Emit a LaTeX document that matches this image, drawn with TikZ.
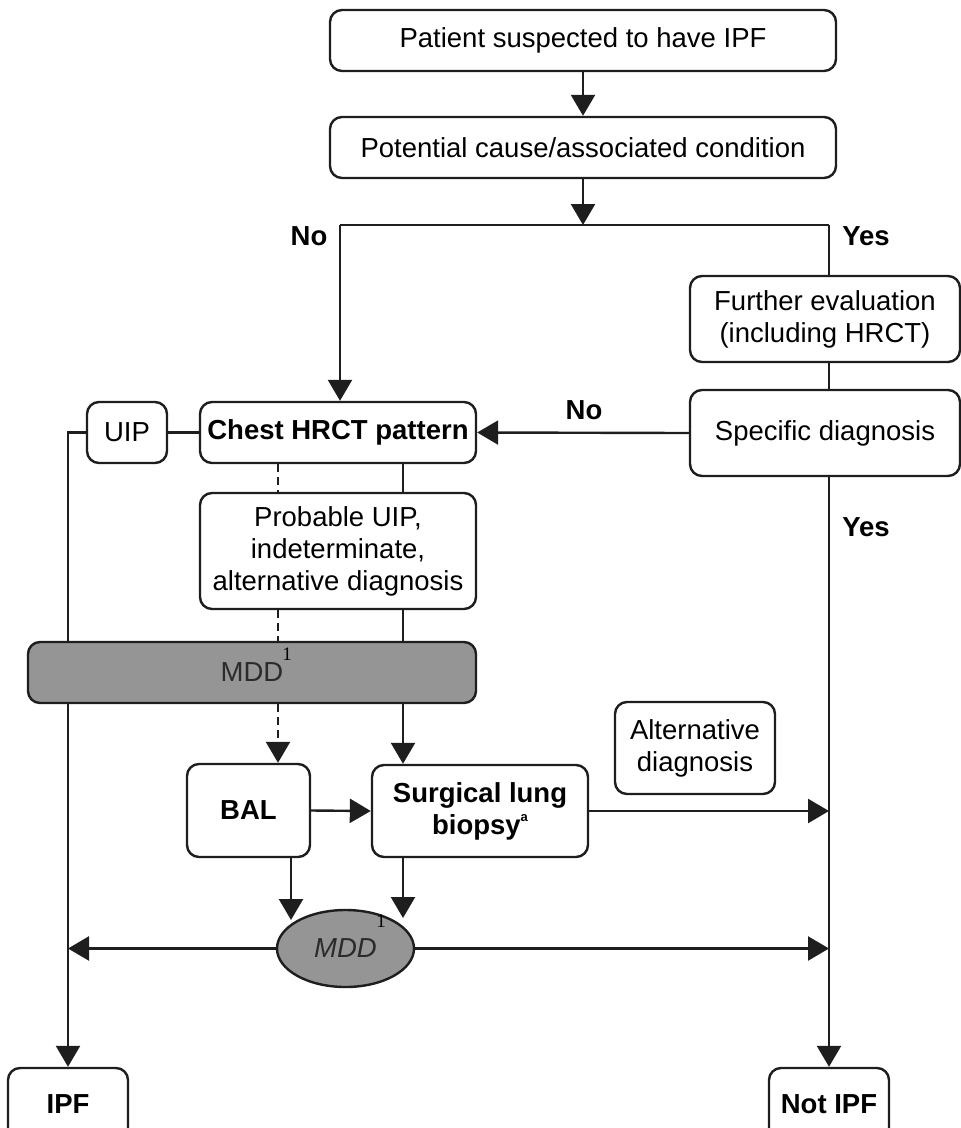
\documentclass[tikz,border=0pt]{standalone}
\usepackage{fontspec}
\setmainfont{Liberation Sans}
\newfontfamily\supfont{Liberation Serif}
\usetikzlibrary{arrows.meta,shapes.geometric}
\definecolor{mddgray}{HTML}{959595}
\definecolor{mddtext}{HTML}{2B2B2B}
\definecolor{ink}{HTML}{1E1E1E}
\begin{document}
\begin{tikzpicture}[x=1pt,y=-1pt,
  every node/.style={font=\fontsize{27.5}{32}\selectfont},
  box/.style={draw=ink, line width=2.4pt, rounded corners=12pt, fill=white, inner sep=0pt, align=center},
  graybox/.style={box, fill=mddgray, text=mddtext},
  line/.style={draw=ink, line width=2.4pt},
  arr/.style={line, -{Triangle[width=24pt,length=21pt]}},
  lbl/.style={font=\fontsize{27.5}{32}\selectfont\bfseries},
  supnum/.style={font=\supfont\fontsize{19}{20}\selectfont, inner sep=0pt}
]
\useasboundingbox (0,0) rectangle (961,1128);

% nodes
\node[box, minimum width=506pt, minimum height=61pt] (p1) at (583,40.5) {Patient suspected to have IPF};
\node[box, minimum width=506pt, minimum height=61pt] (p2) at (583,147.5) {Potential cause/associated condition};
\node[box, minimum width=270pt, minimum height=86pt] (fe) at (825,319) {Further evaluation\\(including HRCT)};
\node[box, minimum width=270pt, minimum height=86pt] (sd) at (825,433) {Specific diagnosis};
\node[box, minimum width=276pt, minimum height=61pt, font=\fontsize{27.5}{32}\selectfont\bfseries] (chest) at (338,432.5) {Chest HRCT pattern};
\node[box, minimum width=80pt, minimum height=61pt] (uip) at (127,432.5) {UIP};
\node[box, minimum width=276pt, minimum height=116pt] (prob) at (338,551) {Probable UIP,\\indeterminate,\\alternative diagnosis};
\node[box, minimum width=123pt, minimum height=93pt, font=\fontsize{27.5}{32}\selectfont\bfseries] (bal) at (248.5,810.5) {BAL};
\node[box, minimum width=216pt, minimum height=92pt, font=\fontsize{27.5}{32}\selectfont\bfseries] (slb) at (480,811) {Surgical lung\\biopsy\raisebox{0.45em}{\fontsize{13}{14}\selectfont a}};
\node[box, minimum width=160pt, minimum height=92pt] (alt) at (695,748) {Alternative\\diagnosis};
\node[box, minimum width=120pt, minimum height=72pt, font=\fontsize{27.5}{32}\selectfont\bfseries] (ipf) at (68,1104) {IPF};
\node[box, minimum width=120pt, minimum height=72pt, font=\fontsize{27.5}{32}\selectfont\bfseries] (notipf) at (829,1104) {Not IPF};

% coordinates
\coordinate (jm) at (583,225);
\coordinate (jl) at (340,225);
\coordinate (jr) at (829,225);
\coordinate (dl) at (278,0);
\coordinate (sl) at (403,0);
\coordinate (ul) at (68,432.5);

% top connectors
\draw[arr] (p1) -- (p2);
\draw[arr] (p2) -- (jm);
\draw[line] (jl) -- (jr);
\draw[arr] (jl) -- (jl |- chest.north);
\draw[line] (jr) -- (jr |- fe.north);
\draw[line] (jr |- fe.south) -- (jr |- sd.north);
\draw[arr] (sd.west) -- (chest.east);
\draw[arr] (jr |- sd.south) -- (notipf.north);
\draw[line] (uip) -- (chest);
\draw[arr] (uip.west) -- (ul) -- (ipf.north);
\draw[line, dash pattern=on 8pt off 5pt] (dl |- chest.south) -- (dl |- prob.north);
\draw[line] (sl |- chest.south) -- (sl |- prob.north);

% MDD bar (drawn over the left vertical line)
\node[graybox, minimum width=448pt, minimum height=61pt] (mdd) at (252,672.5) {MDD};
\node[supnum] (mddsup) at (287,654) {1};

\draw[line, dash pattern=on 8pt off 5pt] (dl |- prob.south) -- (dl |- mdd.north);
\draw[line] (sl |- prob.south) -- (sl |- mdd.north);
\draw[arr, dash pattern=on 8pt off 5pt] (dl |- mdd.south) -- (dl |- bal.north);
\draw[arr] (sl |- mdd.south) -- (sl |- slb.north);
\draw[arr] (bal.east) -- (slb.west);
\draw[arr] (slb.east) -- (jr |- slb.east);

% MDD ellipse
\node[draw=ink, line width=2.4pt, ellipse, fill=mddgray, text=mddtext, minimum width=137pt, minimum height=77pt, inner sep=0pt, font=\fontsize{27.5}{32}\selectfont\itshape] (ell) at (345.5,948.5) {MDD};
\node[supnum] (ellsup) at (381,921) {1};
\coordinate (ea) at (291,920);
\coordinate (eb) at (403,918);
\draw[arr] (bal.south -| ea) -- (ea);
\draw[arr] (slb.south -| eb) -- (eb);
\draw[arr] (ell.west) -- (ul |- ell.west);
\draw[arr] (ell.east) -- (jr |- ell.east);

% labels
\node[lbl] (no1) at (309,236) {No};
\node[lbl] (yes1) at (866,236) {Yes};
\node[lbl] (no2) at (584,410) {No};
\node[lbl] (yes2) at (866,527) {Yes};
\end{tikzpicture}
\end{document}
